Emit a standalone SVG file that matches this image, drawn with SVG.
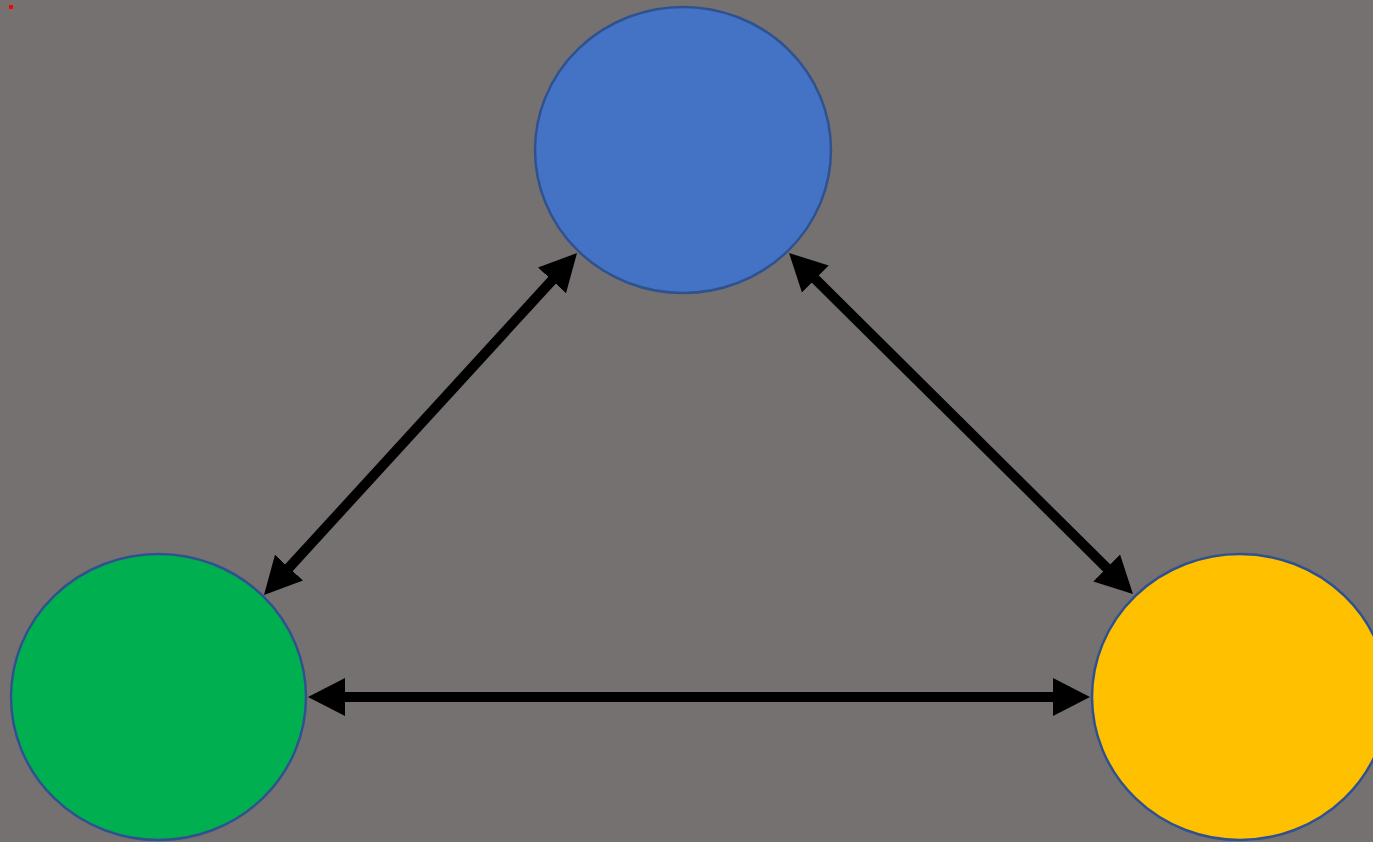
<svg xmlns="http://www.w3.org/2000/svg" width="1373" height="842" viewBox="0 0 1373 842">
<style>
.node{stroke:#2F528F;stroke-width:2.5}
.conn{stroke:#000;stroke-width:10;fill:none;marker-start:url(#ah);marker-end:url(#ah)}
</style>
<defs>
<marker id="ah" markerUnits="userSpaceOnUse" markerWidth="40" markerHeight="40" viewBox="0 -20 40 40" refX="12" refY="0" orient="auto-start-reverse">
<path d="M0,-19 L37,0 L0,19 z" fill="#000"/>
</marker>
</defs>
<rect width="1373" height="842" fill="#767171"/>
<rect x="9" y="5" width="4" height="4" fill="#FF0000"/>
<g id="node-blue"><ellipse class="node" cx="683" cy="150" rx="148" ry="143" fill="#4472C4"/></g>
<g id="node-green"><ellipse class="node" cx="158.5" cy="697" rx="147.5" ry="143" fill="#00B050"/></g>
<g id="node-yellow"><ellipse class="node" cx="1240" cy="697" rx="148" ry="143" fill="#FFC000"/></g>
<g id="connectors">
<path class="conn" d="M560.1,271.5 L280.9,576.5"/>
<path class="conn" d="M806.8,270.6 L1115.2,576.4"/>
<path class="conn" d="M333,697 L1065,697"/>
</g>
</svg>
